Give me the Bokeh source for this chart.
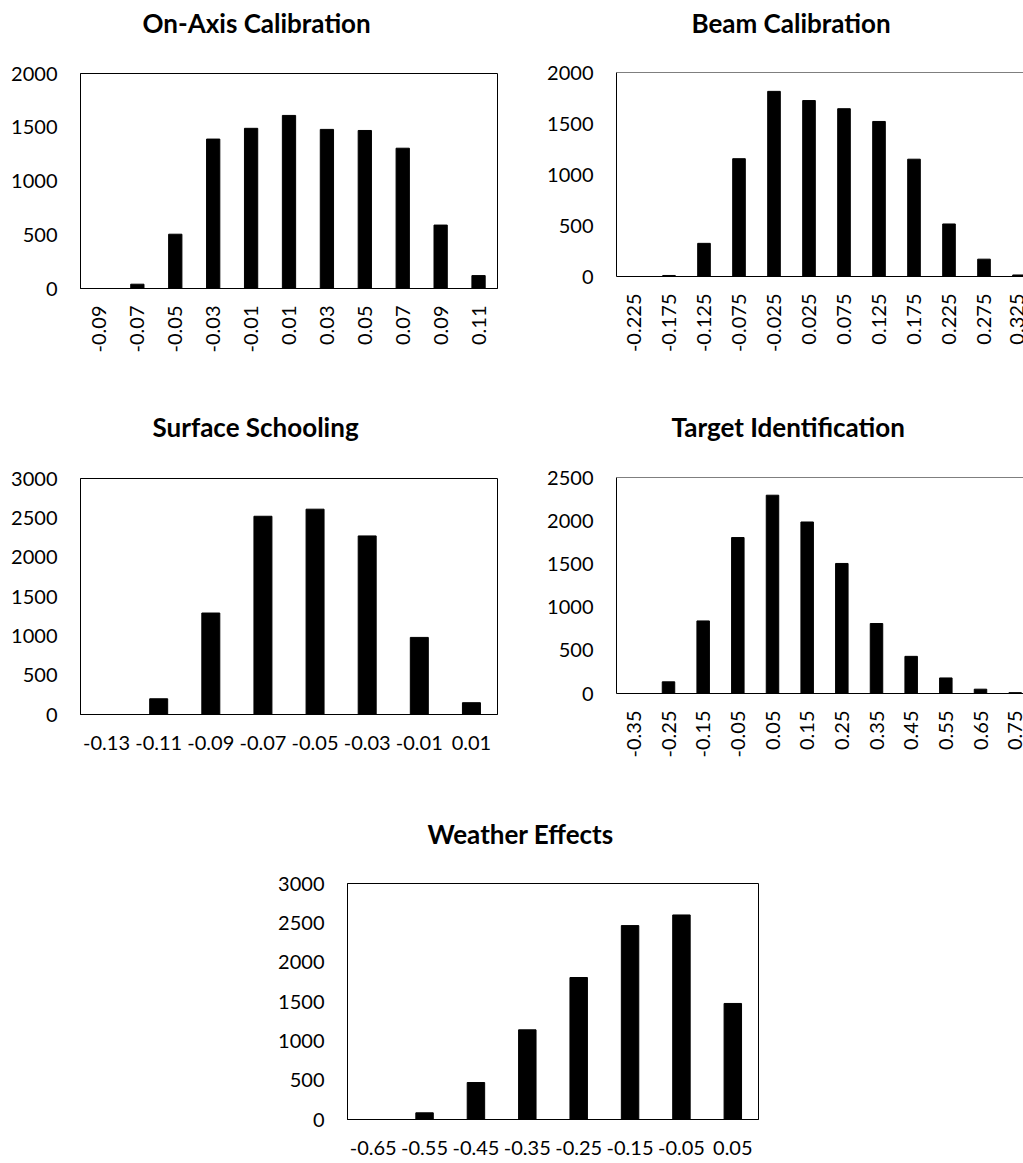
import math

from bokeh.embed import file_html
from bokeh.layouts import column, row
from bokeh.models import FixedTicker, Range1d, SingleIntervalTicker, Spacer, Span, Title
from bokeh.plotting import figure
from bokeh.resources import INLINE

FONT = "Lato"

# Histogram bins (bin centres as printed) and counts for each calibration step
onaxis_bins = ["-0.09", "-0.07", "-0.05", "-0.03", "-0.01", "0.01", "0.03", "0.05", "0.07", "0.09", "0.11"]
onaxis_counts = [0, 40, 505, 1390, 1490, 1610, 1480, 1470, 1305, 590, 120]

beam_bins = ["-0.225", "-0.175", "-0.125", "-0.075", "-0.025", "0.025", "0.075", "0.125",
             "0.175", "0.225", "0.275", "0.325"]
beam_counts = [0, 10, 325, 1155, 1815, 1725, 1645, 1520, 1150, 515, 170, 15]

surface_bins = ["-0.13", "-0.11", "-0.09", "-0.07", "-0.05", "-0.03", "-0.01", "0.01"]
surface_counts = [0, 200, 1290, 2520, 2610, 2270, 980, 150]

target_bins = ["-0.35", "-0.25", "-0.15", "-0.05", "0.05", "0.15", "0.25", "0.35", "0.45",
               "0.55", "0.65", "0.75"]
target_counts = [0, 135, 840, 1805, 2295, 1985, 1505, 810, 430, 180, 50, 10]

weather_bins = ["-0.65", "-0.55", "-0.45", "-0.35", "-0.25", "-0.15", "-0.05", "0.05"]
weather_counts = [0, 85, 470, 1140, 1805, 2465, 2600, 1475]

titles = ["On-Axis Calibration", "Beam Calibration", "Surface Schooling",
          "Target Identification", "Weather Effects"]
y_max = [2000, 2000, 3000, 2500, 3000]


def histogram(title, bins, counts, ymax, width, height, left, top, right, bottom,
              title_offset, title_gap, rotate, bar_frac=0.35, full_frame_w=None):
    xs = [float(b) for b in bins]
    step = round(xs[1] - xs[0], 6)
    x0 = xs[0] - step / 2
    x1 = xs[-1] + step / 2
    frame_w = width - left - right
    if full_frame_w is not None:
        # the plot area runs past the right edge of the canvas
        x1 = x0 + (x1 - x0) * frame_w / full_frame_w

    p = figure(width=width, height=height, title=None,
               x_range=Range1d(x0, x1), y_range=Range1d(0, ymax),
               output_backend="svg", toolbar_location=None, frame_align=False,
               min_border_left=left, min_border_right=right,
               min_border_top=top, min_border_bottom=bottom)
    p.background_fill_color = "white"
    p.border_fill_color = "white"
    p.xgrid.visible = False
    p.ygrid.visible = False

    p.vbar(x=xs, top=counts, width=bar_frac * step, color="black")

    for ax in (p.xaxis[0], p.yaxis[0]):
        ax.major_tick_in = 0
        ax.major_tick_out = 0
        ax.minor_tick_in = 0
        ax.minor_tick_out = 0
        ax.axis_line_color = "black"
        ax.axis_line_width = 1
        ax.major_label_text_font = FONT
        ax.major_label_text_font_size = "20px"
        ax.major_label_text_color = "black"

    p.xaxis.ticker = FixedTicker(ticks=xs)
    p.xaxis.major_label_overrides = dict(zip(xs, bins))
    p.yaxis.ticker = SingleIntervalTicker(interval=500)
    p.yaxis.major_label_standoff = 23
    if rotate:
        p.xaxis.major_label_orientation = math.pi / 2
        p.xaxis.major_label_standoff = 17
    else:
        p.xaxis.major_label_standoff = 21

    if full_frame_w is None:
        p.outline_line_color = "black"
        p.outline_line_alpha = 1.0
        p.outline_line_width = 1
    else:
        p.outline_line_color = None
        p.add_layout(Span(location=ymax, dimension="width", line_color="black", line_width=1))

    # blank band between the heading and the plot area
    p.add_layout(Title(text=" ", text_font_size="1px", standoff=title_gap), "above")
    p.title = Title(text=title, align="left", offset=title_offset, standoff=0,
                    text_font=FONT, text_font_style="bold", text_font_size="26px",
                    text_color="black")
    return p


p1 = histogram(titles[0], onaxis_bins, onaxis_counts, y_max[0], 512, 390,
               80, 73, 15, 102, 62, 32, True)
p2 = histogram(titles[1], beam_bins, beam_counts, y_max[1], 511, 390,
               104, 72, 0, 114, 75, 31, True, bar_frac=0.36, full_frame_w=420)
p3 = histogram(titles[2], surface_bins, surface_counts, y_max[2], 512, 380,
               80, 88, 15, 56, 72, 33, False, bar_frac=0.345)
p4 = histogram(titles[3], target_bins, target_counts, y_max[3], 511, 380,
               104, 87, 0, 77, 55, 32, True, bar_frac=0.36, full_frame_w=416)
p5 = histogram(titles[4], weather_bins, weather_counts, y_max[4], 520, 393,
               97, 113, 12, 44, 80, 31, False, bar_frac=0.34)

layout = column(row(p1, p2), row(p3, p4), row(Spacer(width=250, height=393), p5))

open("out.html", "w").write(file_html(layout, INLINE))
